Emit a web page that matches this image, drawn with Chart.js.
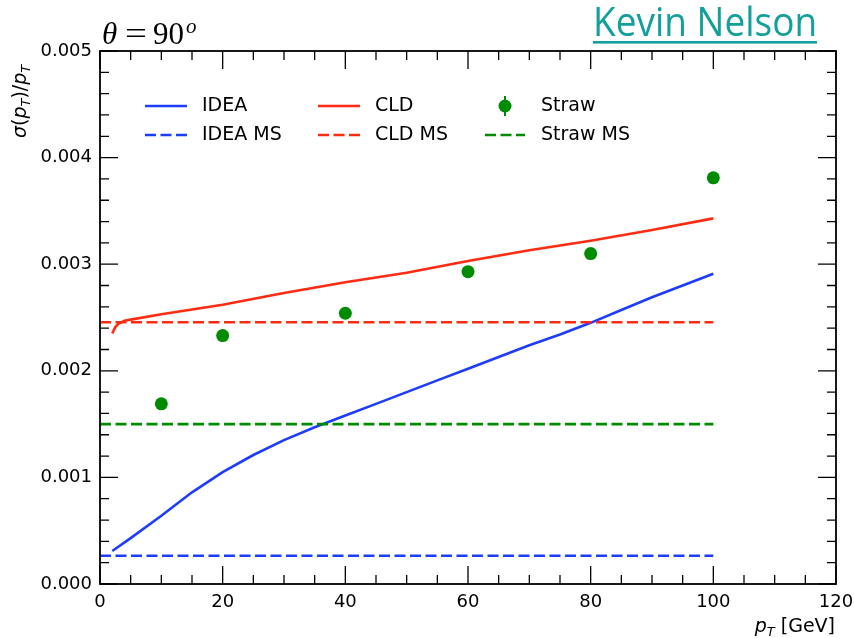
<!DOCTYPE html>
<html><head><meta charset="utf-8">
<script src="https://cdn.jsdelivr.net/npm/chart.js@4.4.1/dist/chart.umd.min.js"></script>
<style>html,body{margin:0;padding:0;background:#fff;}#wrap{position:relative;width:854px;height:638px;}</style>
</head><body><div id="wrap"><canvas id="c" width="854" height="638"></canvas></div>
<script>
// ---- data ----
const ideaX = [2,5,10,15,20,25,30,35,40,45,50,55,60,65,70,75,80,85,90,95,100];
const ideaY = [0.00031,0.00043,0.00064,0.00086,0.00105,0.00121,0.00135,0.00147,0.00158,0.00169,0.00180,0.00191,0.00202,0.00213,0.00224,0.00234,0.00245,0.00257,0.00269,0.00280,0.00291];
const cldX = [2,2.5,3,4,5,10,20,30,40,50,60,70,80,90,100];
const cldY = [0.00235,0.00241,0.00244,0.00247,0.00248,0.00253,0.00262,0.00273,0.00283,0.00292,0.00303,0.00313,0.00322,0.00332,0.00343];
const strawX = [10,20,40,60,80,100];
const strawY = [0.00169,0.00233,0.00254,0.00293,0.00310,0.00381];
const strawErr = [0.00003,0.00003,0.00003,0.00003,0.00004,0.00003];
const msX = [0,100];
const ideaMS = 0.000265;
const cldMS = 0.002455;
const strawMS = 0.0015;
const xTicks = [0,20,40,60,80,100,120];
const yTicks = [0,0.001,0.002,0.003,0.004,0.005];

const BLUE = '#1e3cfb', RED = '#ff2b12', GREEN = '#008c00';
const pts = (xs, ys) => xs.map((x,i)=>({x, y: ys[i]}));
const flat = (xs, v) => xs.map(x=>({x, y: v}));

Chart.defaults.font.family = 'DejaVu Sans';
Chart.defaults.color = '#000';

const frameTicks = {
  id:'frameTicks',
  afterDatasetsDraw(chart){
    const ctx = chart.ctx, a = chart.chartArea, xs = chart.scales.x, ys = chart.scales.y;
    ctx.save();
    ctx.strokeStyle = GREEN; ctx.lineWidth = 2;
    strawX.forEach((x,i)=>{
      const px = xs.getPixelForValue(x);
      ctx.beginPath();
      ctx.moveTo(px, ys.getPixelForValue(strawY[i]-strawErr[i]));
      ctx.lineTo(px, ys.getPixelForValue(strawY[i]+strawErr[i]));
      ctx.stroke();
    });
    ctx.strokeStyle = '#000'; ctx.lineWidth = 1.8;
    ctx.strokeRect(a.left, a.top, a.right-a.left, a.bottom-a.top);
    ctx.lineWidth = 1.3;
    ctx.beginPath();
    for (let v=0; v<=120.001; v+=5){
      const px = xs.getPixelForValue(v);
      const L = (Math.abs(v/20 - Math.round(v/20))<1e-6) ? 18 : 9;
      ctx.moveTo(px, a.bottom); ctx.lineTo(px, a.bottom-L);
      ctx.moveTo(px, a.top); ctx.lineTo(px, a.top+L);
    }
    for (let k=0; k<=25; k++){
      const v = k*0.0002;
      const py = ys.getPixelForValue(v);
      const L = (k%5===0) ? 18 : 9;
      ctx.moveTo(a.left, py); ctx.lineTo(a.left+L, py);
      ctx.moveTo(a.right, py); ctx.lineTo(a.right-L, py);
    }
    ctx.stroke();
    ctx.restore();
  },
  afterDraw(chart){
    const ctx = chart.ctx;
    ctx.save();
    ctx.fillStyle = '#000';
    ctx.textBaseline = 'alphabetic';
    // title theta = 90^o
    ctx.font = 'italic 31px "Liberation Serif"';
    ctx.fillText('θ', 102, 44);
    ctx.font = '31px "Liberation Serif"';
    ctx.save(); ctx.translate(125,44); ctx.scale(1.25,1); ctx.fillText('=', 0, 0); ctx.restore();
    ctx.save(); ctx.translate(153,44); ctx.scale(1.0,1); ctx.fillText('90', 0, 0); ctx.restore();
    ctx.font = 'italic 21px "Liberation Serif"';
    ctx.fillText('o', 186, 33);
    // Kevin Nelson
    ctx.fillStyle = '#139f9b';
    let fs = 36;
    ctx.font = fs+'px "Open Sans"';
    const w = ctx.measureText('Kevin Nelson').width;
    fs = fs*224/w;
    ctx.font = fs.toFixed(1)+'px "Open Sans"';
    const sy = 29/(0.714*fs);
    ctx.save(); ctx.translate(593, 36); ctx.scale(1, sy); ctx.fillText('Kevin Nelson', 0, 0); ctx.restore();
    ctx.fillRect(593, 41, 224, 2.6);
    // y label (rotated)
    ctx.fillStyle = '#000';
    ctx.save();
    ctx.translate(26, 138);
    ctx.rotate(-Math.PI/2);
    let x = 0;
    const seg = (t, f, dy=0) => { ctx.font = f; ctx.fillText(t, x, dy); x += ctx.measureText(t).width; };
    seg('σ', 'italic 19px "DejaVu Sans"');
    seg('(', '19px "DejaVu Sans"');
    seg('p', 'italic 19px "DejaVu Sans"');
    seg('T', 'italic 13px "DejaVu Sans"', 4);
    seg(')/', '19px "DejaVu Sans"');
    seg('p', 'italic 19px "DejaVu Sans"');
    seg('T', 'italic 13px "DejaVu Sans"', 4);
    ctx.restore();
    // x label
    ctx.font = 'italic 19px "DejaVu Sans"';
    const w1 = ctx.measureText('p').width;
    ctx.font = 'italic 13px "DejaVu Sans"';
    const w2 = ctx.measureText('T').width;
    ctx.font = '19px "DejaVu Sans"';
    const w3 = ctx.measureText(' [GeV]').width;
    let sx = 835 - (w1+w2+w3);
    ctx.font = 'italic 19px "DejaVu Sans"'; ctx.fillText('p', sx, 632); sx += w1;
    ctx.font = 'italic 13px "DejaVu Sans"'; ctx.fillText('T', sx, 636); sx += w2;
    ctx.font = '19px "DejaVu Sans"'; ctx.fillText(' [GeV]', sx, 632);
    // legend
    ctx.textBaseline = 'middle';
    ctx.font = '19px "DejaVu Sans"';
    const r1 = 106, r2 = 135;
    const line = (x1,x2,y,c,dash)=>{ ctx.save(); ctx.strokeStyle=c; ctx.lineWidth=2.6; ctx.setLineDash(dash?[11,4.5]:[]); ctx.beginPath(); ctx.moveTo(x1,y); ctx.lineTo(x2,y); ctx.stroke(); ctx.restore(); };
    line(145,187,r1,BLUE,false); ctx.fillText('IDEA',202,r1);
    line(145,187,r2,BLUE,true);  ctx.fillText('IDEA MS',202,r2);
    line(318,360,r1,RED,false);  ctx.fillText('CLD',375,r1);
    line(318,360,r2,RED,true);   ctx.fillText('CLD MS',375,r2);
    ctx.fillStyle = GREEN; ctx.strokeStyle = GREEN; ctx.lineWidth = 2;
    ctx.beginPath(); ctx.arc(505, r1, 6.5, 0, Math.PI*2); ctx.fill();
    ctx.beginPath(); ctx.moveTo(505, r1-10); ctx.lineTo(505, r1+10); ctx.stroke();
    line(485,525,r2,GREEN,true);
    ctx.fillStyle = '#000';
    ctx.fillText('Straw',541,r1);
    ctx.fillText('Straw MS',541,r2);
    ctx.restore();
  }
};

const lineDs = (data, color, dash) => ({data, showLine:true, borderColor:color, backgroundColor:color, borderWidth:2.6, borderDash: dash?[11,4.5]:[], pointRadius:0, tension:0, fill:false});

new Chart(document.getElementById('c'), {
  type:'scatter',
  data:{ datasets:[
    lineDs(flat(msX, ideaMS), BLUE, true),
    lineDs(flat(msX, cldMS), RED, true),
    lineDs(flat(msX, strawMS), GREEN, true),
    lineDs(pts(ideaX, ideaY), BLUE, false),
    lineDs(pts(cldX, cldY), RED, false),
    {data: pts(strawX, strawY), showLine:false, pointRadius:6.5, pointHoverRadius:6.5, backgroundColor:GREEN, borderColor:GREEN, borderWidth:0}
  ]},
  options:{
    responsive:false, animation:false, devicePixelRatio:1,
    layout:{padding:{top:51, right:18, left:0, bottom:0}},
    plugins:{legend:{display:false}, tooltip:{enabled:false}},
    scales:{
      x:{type:'linear', min:0, max:120, grid:{display:false, drawTicks:false}, border:{display:false},
         afterBuildTicks: s => { s.ticks = xTicks.map(v=>({value:v})); },
         afterFit: s => { s.height = 54; s.paddingLeft = 0; s.paddingRight = 0; },
         ticks:{padding:8, font:{size:18}, maxRotation:0, autoSkip:false, callback: v => String(v)}},
      y:{type:'linear', min:0, max:0.005, grid:{display:false, drawTicks:false}, border:{display:false},
         afterBuildTicks: s => { s.ticks = yTicks.map(v=>({value:v})); },
         afterFit: s => { s.width = 100; s.paddingTop = 0; s.paddingBottom = 0; },
         ticks:{padding:8, font:{size:18}, autoSkip:false, callback: v => Number(v).toFixed(3)}}
    }
  },
  plugins:[frameTicks]
});
</script></body></html>
